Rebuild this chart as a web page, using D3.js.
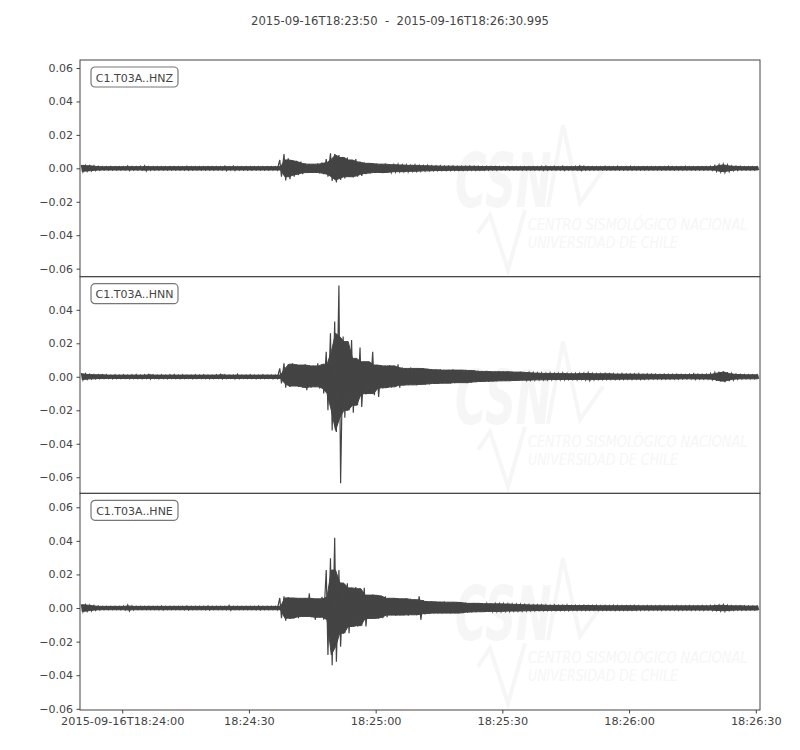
<html>
<head>
  <script src="https://d3js.org/d3.v7.min.js"></script>
  <style>
    body { margin: 0; background: #fff; }
    text { font-family: "DejaVu Sans", sans-serif; }
  </style>
</head>
<body>
<svg width="800" height="750"></svg>

<script>
  // trace labels and y ticks for each panel
  var channels = ["C1.T03A..HNZ", "C1.T03A..HNN", "C1.T03A..HNE"];
  var yTicks = [
    [0.06, 0.04, 0.02, 0.00, -0.02, -0.04, -0.06],
    [0.04, 0.02, 0.00, -0.02, -0.04, -0.06],
    [0.06, 0.04, 0.02, 0.00, -0.02, -0.04, -0.06]
  ];
  var yDomains = [[-0.0648, 0.0648], [-0.0696, 0.0598], [-0.0607, 0.0683]];
  var xTicks = ["2015-09-16T18:24:00", "2015-09-16T18:24:30", "2015-09-16T18:25:00",
                "2015-09-16T18:25:30", "2015-09-16T18:26:00", "2015-09-16T18:26:30"];
  var startTime = "2015-09-16T18:23:50";
  var endTime = "2015-09-16T18:26:30.995";

  // envelope, one max / min per second, in units of 0.001
  var hnzMax = [2.0,1.8,1.6,1.5,1.2,1.0,1.0,1.1,1.0,1.0,
    1.0,1.5,1.1,1.0,1.2,1.5,1.1,1.0,1.0,1.0,
    1.0,1.0,1.0,1.0,1.0,1.2,1.0,1.0,1.0,1.0,
    1.0,1.0,1.0,1.0,1.3,1.0,1.4,1.0,1.0,1.0,
    1.0,1.0,1.0,1.0,1.0,1.0,1.0,5.0,8.5,6.0,
    5.0,4.5,4.0,3.0,2.5,2.5,3.0,3.5,5.5,9.0,
    8.5,8.0,6.5,6.5,5.0,5.5,4.0,3.5,3.0,3.0,
    2.8,2.5,2.8,2.5,2.2,2.5,2.0,2.0,1.8,2.0,
    1.8,1.6,1.8,1.5,1.4,1.5,1.3,1.3,1.4,1.2,
    1.2,1.2,1.3,1.2,1.2,1.1,1.2,1.1,1.1,1.1,
    1.0,1.1,1.0,1.0,1.0,1.0,1.0,1.0,1.0,1.2,
    1.3,1.0,1.2,1.0,1.3,1.0,1.0,1.2,1.4,1.3,
    1.0,1.0,1.0,1.0,1.2,1.0,1.0,1.2,1.0,1.0,
    1.2,1.0,1.0,1.0,1.0,1.0,1.0,1.0,1.0,1.2,
    1.0,1.0,1.0,1.2,1.0,1.0,1.0,1.0,1.0,1.2,
    1.8,2.2,2.5,2.0,1.5,1.2,1.2,1.0,1.0,1.0,1.0];
  var hnzMin = [-2.2,-1.8,-1.6,-1.4,-1.2,-1.0,-1.0,-1.0,-1.0,-1.0,
    -1.0,-1.4,-1.0,-1.0,-1.1,-1.6,-1.2,-1.0,-1.0,-1.0,
    -1.0,-1.0,-1.0,-1.0,-1.0,-1.2,-1.0,-1.0,-1.0,-1.0,
    -1.0,-1.0,-1.0,-1.0,-1.4,-1.0,-1.3,-1.0,-1.0,-1.0,
    -1.0,-1.0,-1.0,-1.0,-1.0,-1.0,-1.0,-5.0,-7.2,-6.5,
    -5.0,-4.0,-3.5,-2.8,-2.5,-2.5,-3.0,-3.5,-5.0,-7.5,
    -8.5,-7.0,-6.0,-5.0,-5.5,-5.0,-4.5,-3.5,-3.0,-2.8,
    -2.5,-2.8,-2.5,-2.5,-2.2,-2.0,-2.0,-2.2,-1.8,-1.8,
    -1.8,-1.6,-1.5,-1.5,-1.4,-1.3,-1.4,-1.3,-1.2,-1.2,
    -1.2,-1.2,-1.1,-1.2,-1.1,-1.1,-1.2,-1.0,-1.1,-1.0,
    -1.0,-1.0,-1.0,-1.1,-1.0,-1.0,-1.0,-1.0,-1.0,-1.2,
    -1.2,-1.0,-1.1,-1.0,-1.3,-1.0,-1.0,-1.1,-1.3,-1.2,
    -1.0,-1.0,-1.0,-1.0,-1.1,-1.0,-1.0,-1.1,-1.0,-1.0,
    -1.1,-1.0,-1.0,-1.0,-1.0,-1.0,-1.0,-1.0,-1.0,-1.1,
    -1.0,-1.0,-1.0,-1.1,-1.0,-1.0,-1.0,-1.0,-1.0,-1.2,
    -1.8,-2.2,-2.5,-2.0,-1.5,-1.2,-1.0,-1.0,-1.0,-1.0,-1.0];

  var hnnMax = [2.2,1.8,1.5,1.3,1.2,1.2,1.2,1.0,1.2,1.0,
    1.2,1.0,1.2,1.3,1.0,1.2,1.5,1.2,1.0,1.2,
    1.0,1.2,1.3,1.0,1.2,1.0,1.0,1.2,1.0,1.2,
    1.0,1.0,1.2,1.4,1.2,1.0,1.0,1.5,1.0,1.0,
    1.2,1.0,1.0,1.2,1.0,1.0,1.0,5.0,8.0,7.5,
    8.0,7.5,7.0,7.5,7.0,6.5,8.0,7.5,15.0,26.0,
    33.0,54.5,24.0,21.0,22.0,11.0,17.5,9.0,9.0,15.0,
    7.0,7.0,6.5,7.0,6.5,7.5,5.5,5.0,5.5,5.0,
    5.0,5.2,4.8,4.5,4.2,4.5,4.0,4.2,4.5,4.0,
    4.0,4.2,3.8,4.0,3.5,3.2,3.5,3.2,3.0,3.4,
    3.0,3.2,3.0,2.8,3.0,2.8,2.6,2.4,2.2,2.2,
    2.0,2.2,2.0,2.0,2.2,2.0,1.8,2.0,2.0,2.2,
    2.5,2.0,1.8,1.8,2.0,1.8,1.8,1.6,1.8,1.6,
    1.6,1.6,1.8,1.5,1.6,1.5,1.5,1.4,1.5,1.4,
    1.4,1.5,1.4,1.3,1.5,1.8,1.5,1.4,1.5,2.0,
    2.5,3.0,3.2,2.8,2.0,1.6,1.4,1.3,1.2,1.2,1.2];
  var hnnMin = [-2.0,-1.6,-1.4,-1.2,-1.2,-1.0,-1.0,-1.2,-1.0,-1.0,
    -1.0,-1.2,-1.0,-1.0,-1.2,-1.0,-1.4,-1.0,-1.2,-1.0,
    -1.2,-1.0,-1.0,-1.2,-1.0,-1.0,-1.2,-1.0,-1.0,-1.0,
    -1.2,-1.0,-1.0,-1.2,-1.0,-1.0,-1.2,-1.2,-1.0,-1.0,
    -1.0,-1.2,-1.0,-1.0,-1.0,-1.2,-1.0,-4.0,-6.5,-6.0,
    -5.5,-6.0,-6.5,-8.0,-6.5,-6.0,-7.0,-10.0,-20.0,-32.0,
    -33.0,-63.5,-24.5,-20.0,-21.5,-17.0,-18.0,-10.5,-10.0,-11.0,
    -12.0,-7.0,-6.5,-6.5,-6.0,-6.5,-5.0,-5.0,-4.8,-5.0,
    -4.8,-4.5,-4.5,-4.2,-4.0,-4.0,-3.8,-4.0,-3.8,-3.5,
    -3.5,-3.8,-3.5,-3.2,-3.0,-2.8,-3.0,-2.6,-2.6,-2.5,
    -2.4,-2.5,-2.4,-2.2,-2.2,-2.0,-2.0,-2.0,-1.8,-1.8,
    -1.8,-1.8,-1.6,-1.8,-1.8,-1.6,-1.6,-1.8,-1.6,-1.8,
    -2.2,-1.8,-1.6,-1.6,-1.6,-1.5,-1.6,-1.5,-1.5,-1.4,
    -1.5,-1.4,-1.5,-1.4,-1.4,-1.3,-1.4,-1.3,-1.3,-1.3,
    -1.3,-1.3,-1.3,-1.2,-1.3,-1.5,-1.4,-1.3,-1.4,-1.8,
    -2.4,-2.8,-3.2,-2.6,-2.0,-1.5,-1.3,-1.2,-1.2,-1.2,-1.2];

  var hneMax = [2.2,2.0,1.8,1.5,1.2,1.0,1.0,1.0,1.0,1.0,
    1.2,1.8,1.2,1.0,1.0,1.0,1.0,1.0,1.0,1.2,
    1.0,1.0,1.0,1.0,1.0,1.2,1.0,1.0,1.0,1.0,
    1.2,1.0,1.0,1.0,1.0,1.5,1.0,1.0,1.0,1.0,
    1.0,1.0,1.2,1.0,1.0,1.0,1.0,6.0,7.0,6.5,
    6.0,6.0,5.8,6.0,8.7,5.8,5.5,6.7,22.6,29.6,
    41.8,22.6,15.0,14.7,12.0,12.5,11.5,12.0,7.7,8.0,
    7.7,7.5,7.0,5.8,6.0,5.8,5.5,5.8,5.5,5.0,
    7.0,4.8,4.0,3.8,3.8,3.6,3.8,3.5,3.5,3.5,
    3.4,3.2,2.8,3.0,2.8,2.8,2.6,2.8,2.5,2.5,
    2.5,2.4,2.4,2.2,2.2,2.0,2.0,1.8,1.8,1.8,
    1.8,1.6,1.8,1.6,1.6,1.8,1.5,1.6,1.5,1.6,
    1.5,1.5,1.6,1.4,1.5,1.4,1.6,1.5,1.4,1.4,
    1.4,1.5,1.4,1.3,1.4,1.3,1.3,1.4,1.3,1.3,
    1.3,1.4,1.3,1.3,1.4,1.3,1.3,1.4,1.3,1.5,
    1.6,1.8,2.0,1.6,1.4,1.3,1.3,1.3,1.2,1.2,1.2];
  var hneMin = [-2.2,-2.0,-1.8,-1.4,-1.2,-1.0,-1.0,-1.0,-1.0,-1.0,
    -1.2,-1.8,-1.2,-1.0,-1.0,-1.0,-1.0,-1.0,-1.0,-1.2,
    -1.0,-1.0,-1.0,-1.0,-1.0,-1.2,-1.0,-1.0,-1.0,-1.0,
    -1.2,-1.0,-1.0,-1.0,-1.0,-1.4,-1.0,-1.0,-1.0,-1.0,
    -1.0,-1.0,-1.2,-1.0,-1.0,-1.0,-1.0,-6.0,-7.5,-6.5,
    -6.0,-6.0,-5.2,-5.0,-5.5,-7.0,-5.5,-7.0,-28.0,-34.0,
    -32.0,-23.0,-15.0,-15.0,-11.0,-11.0,-10.5,-11.0,-6.2,-6.5,
    -6.2,-6.0,-5.5,-4.2,-4.5,-4.2,-4.2,-4.5,-4.0,-4.2,
    -7.0,-3.8,-3.2,-3.2,-3.0,-3.2,-3.0,-3.2,-3.0,-3.0,
    -3.0,-2.8,-2.4,-2.5,-2.2,-2.2,-2.2,-2.0,-2.0,-2.0,
    -2.0,-1.9,-1.8,-1.8,-1.8,-1.7,-1.6,-1.6,-1.5,-1.5,
    -1.5,-1.4,-1.5,-1.4,-1.4,-1.5,-1.3,-1.4,-1.3,-1.4,
    -1.3,-1.3,-1.4,-1.3,-1.3,-1.3,-1.4,-1.3,-1.3,-1.3,
    -1.3,-1.3,-1.3,-1.2,-1.3,-1.2,-1.2,-1.3,-1.2,-1.2,
    -1.2,-1.3,-1.2,-1.2,-1.3,-1.2,-1.2,-1.3,-1.2,-1.4,
    -1.5,-1.8,-2.0,-1.6,-1.4,-1.3,-1.2,-1.2,-1.2,-1.2,-1.2];

  var traceMax = [hnzMax, hnnMax, hneMax];
  var traceMin = [hnzMin, hnnMin, hneMin];

  var svg = d3.select("svg"),
      plotLeft = 80, plotRight = 760, plotTop = 60, plotBottom = 710,
      panelH = (plotBottom - plotTop) / 3,
      ink = "#444",
      faint = "#f6f6f6";

  var parse = d3.utcParse("%Y-%m-%dT%H:%M:%S"),
      parseMs = d3.utcParse("%Y-%m-%dT%H:%M:%S.%L");
  var t0 = parse(startTime), t1 = parseMs(endTime);

  var x = d3.scaleUtc().domain([t0, t1]).range([plotLeft, plotRight]);

  // title
  svg.append("text")
      .attr("x", 400).attr("y", 25)
      .attr("text-anchor", "middle")
      .style("font-size", "11.6px")
      .attr("fill", ink)
      .attr("xml:space", "preserve")
      .text(startTime + "  -  " + endTime);

  svg.append("defs").selectAll("clipPath")
    .data(channels)
    .enter().append("clipPath")
      .attr("id", function(d, i) { return "clip" + i; })
    .append("rect")
      .attr("x", plotLeft).attr("y", function(d, i) { return plotTop + i * panelH; })
      .attr("width", plotRight - plotLeft).attr("height", panelH);

  channels.forEach(function(name, p) {
    var py = plotTop + p * panelH;
    var y = d3.scaleLinear().domain(yDomains[p]).range([py + panelH, py]);

    // very faint CSN watermark
    var wm = svg.append("g")
        .attr("transform", "translate(0," + (py - 60) + ")")
        .attr("fill", faint);
    wm.append("text")
        .attr("transform", "translate(455,207) scale(0.58,1)")
        .style("font-size", "74px").style("font-weight", "bold").style("font-style", "italic")
        .text("CSN");
    wm.append("text")
        .attr("transform", "translate(528,230) scale(1.02,1.1)")
        .style("font-size", "14px").style("font-style", "italic")
        .style("font-family", "DejaVu Sans Condensed")
        .text("CENTRO SISMOLÓGICO NACIONAL");
    wm.append("text")
        .attr("transform", "translate(528,248) scale(1.0,1.1)")
        .style("font-size", "14px").style("font-style", "italic")
        .style("font-family", "DejaVu Sans Condensed")
        .text("UNIVERSIDAD DE CHILE");
    wm.append("path")
        .attr("d", "M548,207L563,125L580,203L603,170")
        .attr("fill", "none").attr("stroke", faint).attr("stroke-width", 4);
    wm.append("path")
        .attr("d", "M478,233L490,215L508,270L525,210")
        .attr("fill", "none").attr("stroke", faint).attr("stroke-width", 4);

    var hi = traceMax[p], lo = traceMin[p];
    var bins = hi.map(function(v, i) {
      // solid body: the smaller of each second and its neighbours
      var a = Math.max(i - 1, 0), b = Math.min(i + 2, hi.length);
      return {
        t: +t0 + i * 1000,
        hi: v / 1000, lo: lo[i] / 1000,
        bodyHi: d3.min(hi.slice(a, b)) / 1000,
        bodyLo: d3.max(lo.slice(a, b)) / 1000
      };
    });

    var body = d3.area()
        .x(function(d) { return x(d.t + 500); })
        .y0(function(d) { return y(d.bodyLo); })
        .y1(function(d) { return y(d.bodyHi); });

    svg.append("path")
        .datum(bins)
        .attr("clip-path", "url(#clip" + p + ")")
        .attr("d", body)
        .attr("fill", ink)
        .attr("stroke", ink)
        .attr("stroke-width", 1);

    // peaks: max then min of every second
    var pts = [];
    bins.forEach(function(d) {
      pts.push([d.t + 300, d.hi]);
      pts.push([d.t + 700, d.lo]);
    });
    var line = d3.line()
        .x(function(d) { return x(d[0]); })
        .y(function(d) { return y(d[1]); });

    svg.append("path")
        .datum(pts)
        .attr("clip-path", "url(#clip" + p + ")")
        .attr("d", line)
        .attr("fill", "none")
        .attr("stroke", ink)
        .attr("stroke-width", 1.2);

    // frame
    svg.append("rect")
        .attr("x", plotLeft).attr("y", py)
        .attr("width", plotRight - plotLeft).attr("height", panelH)
        .attr("fill", "none").attr("stroke", ink).attr("stroke-width", 1);

    // y axis
    var yAxis = svg.append("g")
        .attr("transform", "translate(" + plotLeft + ",0)")
        .call(d3.axisLeft(y).tickValues(yTicks[p]).tickSize(3.5).tickPadding(3.5)
          .tickFormat(function(d) { return d3.format(".2f")(d).replace("-", "\u2212"); }));
    yAxis.select(".domain").remove();
    yAxis.selectAll("line").attr("stroke", ink);
    yAxis.selectAll("text").attr("fill", ink).style("font-size", "11px")
        .style("font-family", "DejaVu Sans");

    // trace label box
    var lab = svg.append("g").attr("transform", "translate(91," + (py + 7) + ")");
    lab.append("rect")
        .attr("width", 87).attr("height", 20).attr("rx", 4)
        .attr("fill", "white").attr("stroke", "#777").attr("stroke-width", 1.2);
    lab.append("text")
        .attr("x", 43.5).attr("y", 14.5)
        .attr("text-anchor", "middle")
        .style("font-size", "11px")
        .attr("fill", ink)
        .text(name);
  });

  // x axis on the bottom panel
  var xAxis = svg.append("g")
      .attr("transform", "translate(0," + plotBottom + ")")
      .call(d3.axisBottom(x).tickValues(xTicks.map(parse)).tickSize(3.5).tickPadding(3.5)
        .tickFormat(function(d, i) {
          return i == 0 ? d3.utcFormat("%Y-%m-%dT%H:%M:%S")(d) : d3.utcFormat("%H:%M:%S")(d);
        }));
  xAxis.select(".domain").remove();
  xAxis.selectAll("line").attr("stroke", ink);
  xAxis.selectAll("text").attr("fill", ink).style("font-size", "11.3px")
      .style("font-family", "DejaVu Sans");
</script>
</body>
</html>
